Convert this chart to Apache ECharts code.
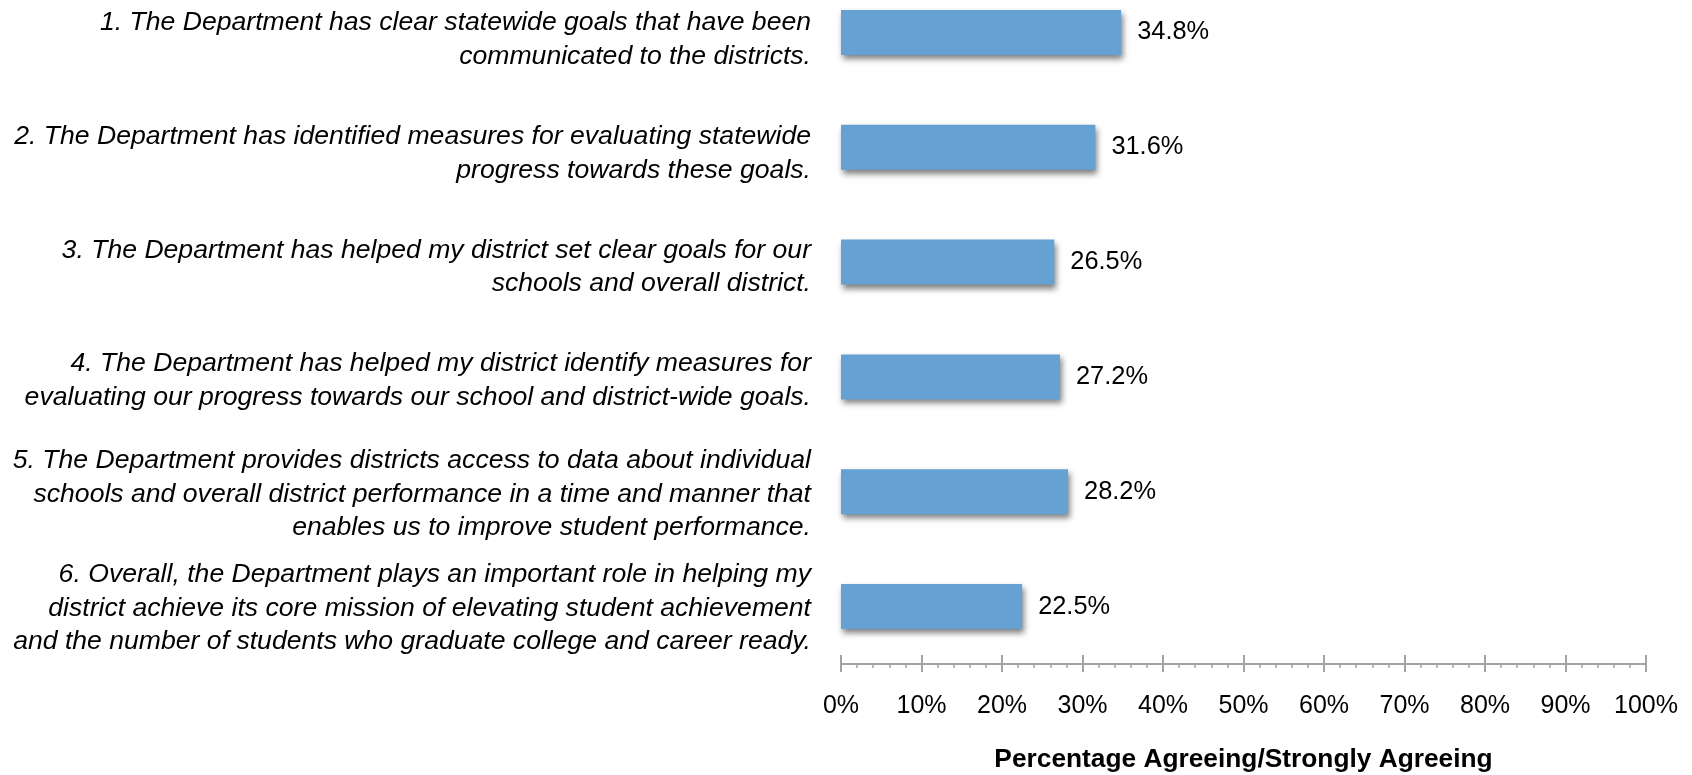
<!DOCTYPE html>
<html>
<head>
<meta charset="utf-8">
<script src="https://cdn.jsdelivr.net/npm/echarts@6/dist/echarts.min.js"></script>
<style>
  html, body { margin: 0; padding: 0; background: #fff; }
  #chart { width: 1692px; height: 775px; }
</style>
</head>
<body>
<div id="chart"></div>
<script>
const categories = [
  '1. The Department has clear statewide goals that have been\ncommunicated to the districts.',
  '2. The Department has identified measures for evaluating statewide\nprogress towards these goals.',
  '3. The Department has helped my district set clear goals for our\nschools and overall district.',
  '4. The Department has helped my district identify measures for\nevaluating our progress towards our school and district-wide goals.',
  '5. The Department provides districts access to data about individual\nschools and overall district performance in a time and manner that\nenables us to improve student performance.',
  '6. Overall, the Department plays an important role in helping my\ndistrict achieve its core mission of elevating student achievement\nand the number of students who graduate college and career ready.'
];
const values = [34.8, 31.6, 26.5, 27.2, 28.2, 22.5];
const axisTitle = 'Percentage Agreeing/Strongly Agreeing';

const font = '"Liberation Sans", Arial, sans-serif';
const axisGrey = '#A3A3A3';

const chart = echarts.init(document.getElementById('chart'));
const option = {
  animation: false,
  grid: [
    // bars + value axis
    { left: 841, right: 46, top: -25, height: 689, outerBoundsMode: 'none' },
    // question labels sit on a slightly tighter band than the bars
    { left: 841, right: 46, top: -17, height: 682, outerBoundsMode: 'none' }
  ],
  xAxis: [
    {
      type: 'value',
      gridIndex: 0,
      min: 0,
      max: 100,
      interval: 10,
      position: 'bottom',
      name: axisTitle,
      nameLocation: 'middle',
      nameGap: 83,
      nameTextStyle: {
        fontFamily: font,
        fontSize: 26.3,
        fontWeight: 'bold',
        color: '#000'
      },
      axisLine: { show: true, lineStyle: { color: axisGrey, width: 2 } },
      axisTick: { show: true, length: 8, lineStyle: { color: axisGrey, width: 2 } },
      minorTick: { show: true, splitNumber: 5, length: 4, lineStyle: { color: axisGrey, width: 1.5 } },
      axisLabel: {
        margin: 30,
        formatter: '{value}%',
        fontFamily: font,
        fontSize: 25,
        color: '#000'
      },
      splitLine: { show: false }
    },
    {
      type: 'value',
      gridIndex: 0,
      min: 0,
      max: 100,
      interval: 10,
      position: 'bottom',
      axisLine: { show: false },
      axisTick: { show: true, inside: true, length: 9, lineStyle: { color: axisGrey, width: 2 } },
      axisLabel: { show: false },
      splitLine: { show: false }
    },
    {
      type: 'value',
      gridIndex: 1,
      show: false,
      min: 0,
      max: 100
    }
  ],
  yAxis: [
    {
      type: 'category',
      gridIndex: 0,
      data: categories,
      inverse: true,
      axisLine: { show: false },
      axisTick: { show: false },
      axisLabel: { show: false }
    },
    {
      type: 'category',
      gridIndex: 1,
      data: categories,
      inverse: true,
      axisLine: { show: false },
      axisTick: { show: false },
      splitLine: { show: false },
      axisLabel: {
        margin: 30,
        fontFamily: font,
        fontSize: 26.6,
        fontStyle: 'italic',
        lineHeight: 33.5,
        align: 'right',
        color: '#000'
      }
    }
  ],
  series: [
    {
      type: 'bar',
      xAxisIndex: 0,
      yAxisIndex: 0,
      data: values,
      barWidth: 45,
      itemStyle: {
        color: '#66A1D4',
        shadowColor: 'rgba(0,0,0,0.5)',
        shadowBlur: 6,
        shadowOffsetX: 2,
        shadowOffsetY: 4
      },
      label: {
        show: true,
        position: 'right',
        distance: 16,
        formatter: p => p.value.toFixed(1) + '%',
        fontFamily: font,
        fontSize: 25.4,
        color: '#000'
      }
    }
  ]
};
chart.setOption(option);
</script>
</body>
</html>
